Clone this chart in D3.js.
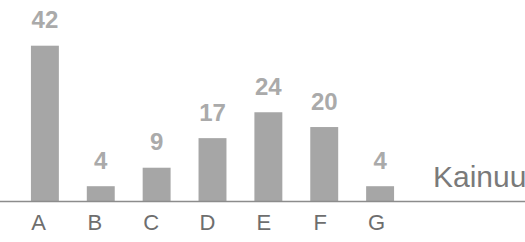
<!DOCTYPE html>
<html>
<head>
<meta charset="utf-8">
<script src="https://cdn.jsdelivr.net/npm/d3@7"></script>
<style>
  body { margin: 0; background: #fff; }
  text { font-family: Arial, "Liberation Sans", sans-serif; }
</style>
</head>
<body>
<div id="chart"></div>
<script>
/* DATA */
const categories = ["A", "B", "C", "D", "E", "F", "G"];
const values = [42, 4, 9, 17, 24, 20, 4];
const seriesName = "Kainuu";

/* CONSTANTS */
const width = 525;
const height = 242;
const baseY = 201;

const svg = d3.select("#chart")
  .append("svg")
  .attr("width", width)
  .attr("height", height);

/* SCALES */
const xScale = d3.scaleBand()
  .domain(categories)
  .range([3, 422])
  .padding(0.5);

// tick labels sit a little left of the bar centres
const labelScale = d3.scalePoint()
  .domain(categories)
  .range([38, 376]);

const yScale = d3.scaleLinear()
  .domain([0, 42])
  .range([baseY, 45.7]);

/* BARS */
svg.selectAll(".bar")
  .data(values)
  .join("rect")
  .attr("class", "bar")
  .attr("x", (d, i) => xScale(categories[i]))
  .attr("y", d => yScale(d))
  .attr("width", xScale.bandwidth())
  .attr("height", d => yScale(0) - yScale(d))
  .attr("fill", "#a6a6a6");

// baseline
svg.append("line")
  .attr("x1", 0)
  .attr("x2", width)
  .attr("y1", baseY + 0.5)
  .attr("y2", baseY + 0.5)
  .attr("stroke", "#8c8c8c")
  .attr("stroke-width", 1.6);

// value labels
svg.selectAll(".val")
  .data(values)
  .join("text")
  .attr("class", "val")
  .attr("x", (d, i) => xScale(categories[i]) + xScale.bandwidth() / 2)
  .attr("y", d => yScale(d) - 17.5)
  .attr("text-anchor", "middle")
  .style("font-size", "24px")
  .style("font-weight", "bold")
  .attr("fill", "#aaaaaa")
  .text(d => d);

// category axis
const xAxis = svg.append("g")
  .attr("transform", `translate(0,${baseY})`)
  .call(d3.axisBottom(labelScale).tickSize(0).tickPadding(13));
xAxis.select(".domain").remove();
xAxis.selectAll("text")
  .style("font-size", "22px")
  .attr("fill", "#6e6e6e");

// series label (runs off the right edge, as in the original)
svg.append("text")
  .attr("x", 433)
  .attr("y", 187)
  .style("font-size", "30px")
  .attr("fill", "#7a7a7a")
  .text(seriesName);
</script>
</body>
</html>
